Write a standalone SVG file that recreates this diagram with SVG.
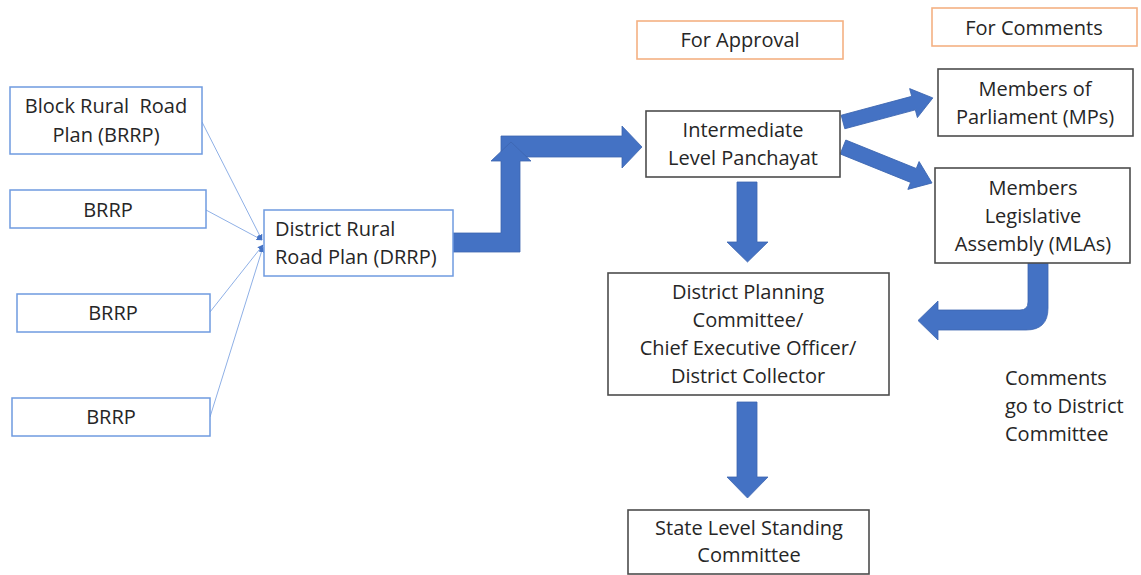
<svg xmlns="http://www.w3.org/2000/svg" width="1141" height="575" viewBox="0 0 1141 575">
<style>
text{font-family:"Open Sans",Lato,"Liberation Sans",sans-serif;font-size:20px;fill:#262626;text-anchor:middle}
.lb{fill:#fff;stroke:#6f9be0;stroke-width:1.5}
.db{fill:#fff;stroke:#4d4d4d;stroke-width:1.6}
.ob{fill:#fff;stroke:#f4b183;stroke-width:1.6}
.thin{fill:none;stroke:#8fb0e6;stroke-width:1}
.big{fill:#4472c4;stroke:#3d66b0;stroke-width:0.8}
.left{text-anchor:start}
.pre{white-space:pre}
</style>
<defs>
<marker id="ah" viewBox="0 0 10 10" refX="9" refY="5" markerWidth="6" markerHeight="6" orient="auto" markerUnits="userSpaceOnUse">
<path d="M0,0 L10,5 L0,10 Z" fill="#4472c4"/>
</marker>
</defs>
<g id="connectors">
<path class="thin" d="M202,122 L262,240" marker-end="url(#ah)"/>
<path class="thin" d="M206,210 L262,240" marker-end="url(#ah)"/>
<path class="thin" d="M210,312 L263,245" marker-end="url(#ah)"/>
<path class="thin" d="M210,417 L263,247" marker-end="url(#ah)"/>
<path class="big" d="M501,136 L622,136 L622,126 L642,147 L622,168 L622,157 L501,157 Z"/>
<path class="big" d="M452,233 L501,233 L501,161 L491,161 L511,142 L531,161 L520,161 L520,252 L452,252 Z"/>
<path class="big" transform="translate(843,122) rotate(-15)" d="M0,-7 L73,-7 L73,-15 L93,0 L73,15 L73,7 L0,7 Z"/>
<path class="big" transform="translate(843,147) rotate(22)" d="M0,-7.5 L76,-7.5 L76,-15 L96,0 L76,15 L76,7.5 L0,7.5 Z"/>
<path class="big" d="M737,182 L757,182 L757,242 L768,242 L747.5,262 L727,242 L737,242 Z"/>
<path class="big" d="M737,402 L757,402 L757,477 L768,477 L747.5,498 L727,477 L737,477 Z"/>
<path class="big" d="M1028,263 L1048,263 L1048,308 Q1048,330 1026,330 L938,330 L938,340 L918,320.5 L938,301 L938,310 L1020,310 Q1028,310 1028,302 Z"/>
</g>
<g id="brrp1"><rect class="lb" x="10" y="87" width="192" height="67"/><text class="pre" x="106" y="113">Block Rural  Road</text><text x="106" y="142">Plan (BRRP)</text></g>
<g id="brrp2"><rect class="lb" x="10" y="190" width="196" height="38"/><text x="108" y="217">BRRP</text></g>
<g id="brrp3"><rect class="lb" x="17" y="294" width="193" height="38"/><text x="113" y="320">BRRP</text></g>
<g id="brrp4"><rect class="lb" x="12" y="398" width="198" height="38"/><text x="111" y="424">BRRP</text></g>
<g id="drrp"><rect class="lb" x="264" y="210" width="189" height="66"/><text class="left" x="275" y="236">District Rural</text><text class="left" x="275" y="264">Road Plan (DRRP)</text></g>
<g id="approval"><rect class="ob" x="637" y="21" width="206" height="38"/><text x="740" y="47">For Approval</text></g>
<g id="comments-label"><rect class="ob" x="932" y="8" width="205" height="38"/><text x="1034" y="35">For Comments</text></g>
<g id="ilp"><rect class="db" x="646" y="111" width="194" height="66"/><text x="743" y="137">Intermediate</text><text x="743" y="165">Level Panchayat</text></g>
<g id="mps"><rect class="db" x="938" y="69" width="195" height="67"/><text x="1035" y="96">Members of</text><text x="1035" y="124">Parliament (MPs)</text></g>
<g id="mlas"><rect class="db" x="935" y="168" width="195" height="95"/><text x="1033" y="195">Members</text><text x="1033" y="223">Legislative</text><text x="1033" y="251">Assembly (MLAs)</text></g>
<g id="dpc"><rect class="db" x="608" y="273" width="281" height="122"/><text x="748" y="299">District Planning</text><text x="748" y="327">Committee/</text><text x="748" y="355">Chief Executive Officer/</text><text x="748" y="383">District Collector</text></g>
<g id="state"><rect class="db" x="628" y="510" width="241" height="64"/><text x="749" y="535">State Level Standing</text><text x="749" y="562">Committee</text></g>
<g id="note"><text class="left" x="1005" y="385">Comments</text><text class="left" x="1005" y="413">go to District</text><text class="left" x="1005" y="441">Committee</text></g>
</svg>
